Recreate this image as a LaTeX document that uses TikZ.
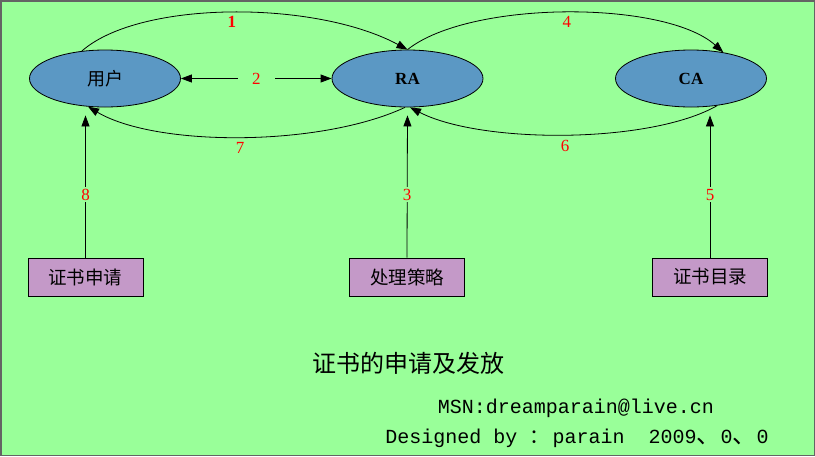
\documentclass[tikz,border=0pt]{standalone}
\usepackage{fontspec}
\setmainfont{Liberation Serif}
\newfontfamily\cjk{Noto Sans CJK SC}
\newfontfamily\monofont{Liberation Mono}
\usetikzlibrary{arrows.meta,shapes.geometric}

\definecolor{bggreen}{RGB}{153,255,153}
\definecolor{entblue}{RGB}{91,152,196}
\definecolor{srcpink}{RGB}{196,153,200}
\definecolor{framegray}{RGB}{100,100,100}

\tikzset{
  ent/.style={ellipse, draw=black, fill=entblue, minimum width=151pt, minimum height=57pt, inner sep=0pt, font=\fontsize{17}{17}\selectfont},
  src/.style={rectangle, draw=black, fill=srcpink, minimum width=115pt, minimum height=38pt, font=\cjk\fontsize{18.5}{18.5}\selectfont},
  num/.style={text=red, font=\fontsize{17}{17}\selectfont},
  gap/.style={fill=bggreen, inner sep=2pt},
}
\newcommand{\wide}[1]{{\cjk\fontsize{24}{24}\selectfont #1}}

\begin{document}
\begin{tikzpicture}[x=1pt, y=-1pt, >={Triangle[length=11pt,width=8pt]}, line width=0.8pt]
        % Frame
        \useasboundingbox (0,0) rectangle (815,456);
        \draw[framegray, fill=bggreen, line width=1.5pt] (0.75,0.75) rectangle (814.25,455.25);

        % Entities
        \node[ent] (user) at (105,78.5) {\cjk\fontsize{18}{18}\selectfont 用户};
        \node[ent] (RA) at (407.5,78.5) {\textbf{RA}};
        \node[ent] (CA) at (691,78.5) {\textbf{CA}};

        % Sources
        \node[src] (req) at (85.5,277) {证书申请};
        \node[src] (pol) at (407,277) {处理策略};
        \node[src] (dir) at (710,277) {证书目录};

        % Links between entities
        \draw[->] (user.130) .. controls (140,0) and (315,0) .. (RA.north)
            node[num, pos=0.5, below] {\textbf{1}};
        \draw[<->] (user.east) -- (RA.west)
            node[num, gap, midway, inner xsep=14pt] {2};
        \draw[->] (RA.north) .. controls (470,0) and (665,0) .. (CA.39)
            node[num, pos=0.5, below] {4};
        \draw[->] (CA.-46) .. controls (650,144) and (481,144) .. (RA.-85)
            node[num, pos=0.5, below=2pt] {6};
        \draw[->] (RA.-95) .. controls (320,147) and (156,147) .. (user.-121)
            node[num, pos=0.5, below=2pt] {7};

        % Links from sources
        \draw[->, shorten >=8pt] (req.north) -- (req.north |- user.south)
            node[num, gap, pos=0.42] {8};
        \draw[->, shorten >=8pt] (pol.north) -- (RA.south)
            node[num, gap, pos=0.42] {3};
        \draw[->, shorten >=8pt] (dir.north) -- (dir.north |- CA.south)
            node[num, gap, pos=0.42] {5};

        % Caption
        \node[font=\cjk\fontsize{24}{24}\selectfont] (title) at (408,363) {证书的申请及发放};
        \node[font=\monofont\fontsize{20}{20}\selectfont] (msn) at (576,408) {MSN:dreamparain@live.cn};
        \node[font=\monofont\fontsize{20}{20}\selectfont] (sign) at (577,438)
            {Designed by {\cjk ：}\,parain\ \ 2009\wide{、}0\wide{、}0};
    \end{tikzpicture}
\end{document}
